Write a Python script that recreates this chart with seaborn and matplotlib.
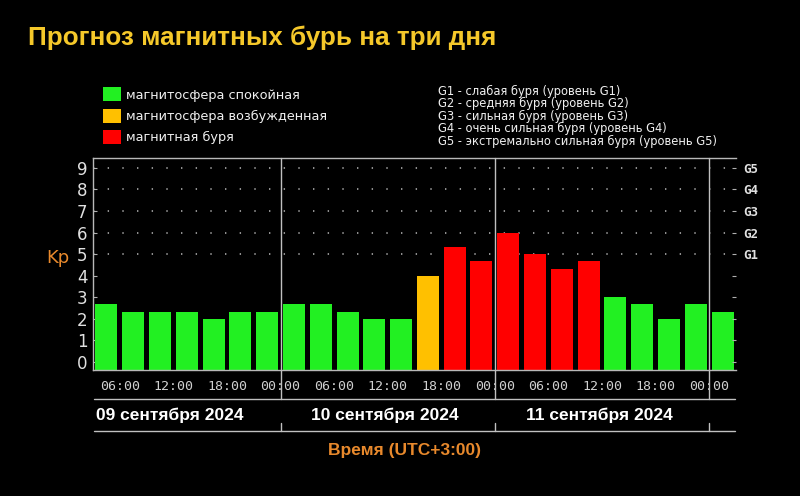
import matplotlib
matplotlib.use('Agg')
import numpy as np
import pandas as pd
import matplotlib.pyplot as plt
import seaborn as sns
from matplotlib.patches import Patch
from matplotlib.lines import Line2D

# --- data: Kp forecast, 3-hour intervals starting 09.09 03:00 (UTC+3) ---
interval_start = list(range(3, 75, 3))  # hours since 09 Sep 00:00 local
kp = [2.67, 2.33, 2.33, 2.33, 2.0, 2.33, 2.33,
      2.67, 2.67, 2.33, 2.0, 2.0, 4.0, 5.33, 4.67,
      6.0, 5.0, 4.33, 4.67, 3.0, 2.67, 2.0, 2.67,
      2.33]
# 0 = спокойная, 1 = возбужденная, 2 = буря
level = [0, 0, 0, 0, 0, 0, 0,
         0, 0, 0, 0, 0, 1, 2, 2,
         2, 2, 2, 2, 0, 0, 0, 0,
         0]
states = ['магнитосфера спокойная', 'магнитосфера возбужденная', 'магнитная буря']
state_colors = ['#22f022', '#ffc000', '#ff0000']
g_labels = ['G1', 'G2', 'G3', 'G4', 'G5']
g_notes = ['G1 - слабая буря (уровень G1)',
           'G2 - средняя буря (уровень G2)',
           'G3 - сильная буря (уровень G3)',
           'G4 - очень сильная буря (уровень G4)',
           'G5 - экстремально сильная буря (уровень G5)']
hour_ticks = [6, 12, 18, 24, 30, 36, 42, 48, 54, 60, 66, 72]
hour_labels = ['06:00', '12:00', '18:00', '00:00'] * 3
day_bounds = [24, 48, 72]
day_labels = ['09 сентября 2024', '10 сентября 2024', '11 сентября 2024']

df = pd.DataFrame({'hour': [h + 1.5 for h in interval_start], 'kp': kp,
                   'state': [states[i] for i in level]})

sns.set_style('dark', rc={'figure.facecolor': 'black', 'axes.facecolor': 'black'})
plt.rcParams['font.family'] = ['DejaVu Sans']

W, H = 800, 496
fig = plt.figure(figsize=(8, 4.96), dpi=100, facecolor='black')


def fx(x):
    return x / W


def fy(y):
    return 1 - y / H


ax_l, ax_r, ax_t, ax_b = 93, 736, 158, 370
ymin, ymax = -0.37, 9.46
ax = fig.add_axes([fx(ax_l), fy(ax_b), fx(ax_r) - fx(ax_l), fy(ax_t) - fy(ax_b)])
ax.set_facecolor('black')

# dotted grid at G levels
for lev in range(5, 10):
    ax.hlines(lev, 3, 75, colors='#b8b8b8', linestyles=(0, (0.9, 8.7)),
              linewidth=1.1, zorder=0.5)

sns.barplot(data=df, x='hour', y='kp', hue='state', hue_order=states,
            palette=dict(zip(states, state_colors)), native_scale=True,
            width=0.82, dodge=False, legend=False, errorbar=None,
            saturation=1, edgecolor='none', ax=ax, zorder=2)
# bars stand on the frame bottom, not on the 0 line
for p in ax.patches:
    h = p.get_height()
    p.set_y(ymin)
    p.set_height(h - ymin)

ax.set_xlim(3, 75)
ax.set_ylim(ymin, ymax)
ax.set_yticks(range(10))
ax.set_yticklabels([str(i) for i in range(10)], fontsize=12, color='#e0e0e0')
ax.set_xticks(hour_ticks)
ax.set_xticklabels(hour_labels, fontsize=9.5, color='#d0d0d0', family='DejaVu Sans Mono')
ax.set_xticks(interval_start + [75], minor=True)
ax.tick_params(axis='x', which='both', direction='out', length=4, color='#b0b0b0', pad=3)
ax.tick_params(axis='y', direction='in', length=3, color='#b0b0b0', pad=4)
ax.set_xlabel('')
ax.set_ylabel('Kp', rotation=0, color='#e8892c', fontsize=13, ha='center', va='center')
ax.yaxis.set_label_coords(-0.054, 0.528)
ax.grid(False)
for side in ['top', 'left', 'bottom']:
    ax.spines[side].set_visible(True)
    ax.spines[side].set_color('#b8b8b8')
    ax.spines[side].set_linewidth(1)
ax.spines['right'].set_visible(False)

# day separators running down through the hour labels
for d in day_bounds:
    ax.axvline(d, ymin=-0.137, ymax=1, color='#c0c0c0', lw=1, clip_on=False, zorder=3)

ax2 = ax.twinx()
ax2.set_ylim(ax.get_ylim())
ax2.set_yticks(range(10))
ax2.set_yticklabels([''] * 5 + g_labels, fontsize=9, color='#e0e0e0',
                    family='DejaVu Sans Mono', fontweight='bold')
ax2.tick_params(axis='y', direction='in', length=3, color='#b0b0b0', pad=5)
for s in ax2.spines.values():
    s.set_visible(False)
ax2.grid(False)

# date rows
for yy in (399, 431):
    fig.add_artist(Line2D([fx(94), fx(735)], [fy(yy), fy(yy)], color='#c0c0c0', lw=1))
for d in day_bounds:
    xp = ax_l + (d - 3) / 72 * (ax_r - ax_l)
    fig.add_artist(Line2D([fx(xp), fx(xp)], [fy(423), fy(431)], color='#c0c0c0', lw=1))
fig.text(fx(96), fy(415), day_labels[0], color='white', fontsize=12.5,
         family='Liberation Sans', fontweight='bold', ha='left', va='center')
for i, lab in enumerate(day_labels[1:]):
    x0 = ax_l + (day_bounds[i] - 3) / 72 * (ax_r - ax_l)
    x1 = ax_l + (day_bounds[i + 1] - 3) / 72 * (ax_r - ax_l)
    fig.text(fx((x0 + x1) / 2 - 3), fy(415), lab, color='white', fontsize=12.5,
             family='Liberation Sans', fontweight='bold', ha='center', va='center')

fig.text(fx(404), fy(451), 'Время (UTC+3:00)', color='#e8892c', fontsize=12.5,
         family='Liberation Sans', fontweight='bold', ha='center', va='center')

# title
fig.text(fx(28), fy(38), 'Прогноз магнитных бурь на три дня', color='#f5c82a',
         fontsize=18.7, family='Liberation Sans', fontweight='bold', ha='left', va='center')

# colour legend
handles = [Patch(facecolor=c, edgecolor='none') for c in state_colors]
fig.legend(handles, states, loc='upper left', bbox_to_anchor=(fx(98), fy(82)),
           frameon=False, fontsize=9.3, labelcolor='#f0f0f0', handlelength=1.4,
           handleheight=1.3, handletextpad=0.35, labelspacing=0.55, borderaxespad=0)

# G level notes
for i, note in enumerate(g_notes):
    fig.text(fx(438), fy(91 + i * 12.5), note, color='#f0f0f0', fontsize=8.3,
             ha='left', va='center')

fig.savefig('out.png', dpi=100, facecolor='black')
